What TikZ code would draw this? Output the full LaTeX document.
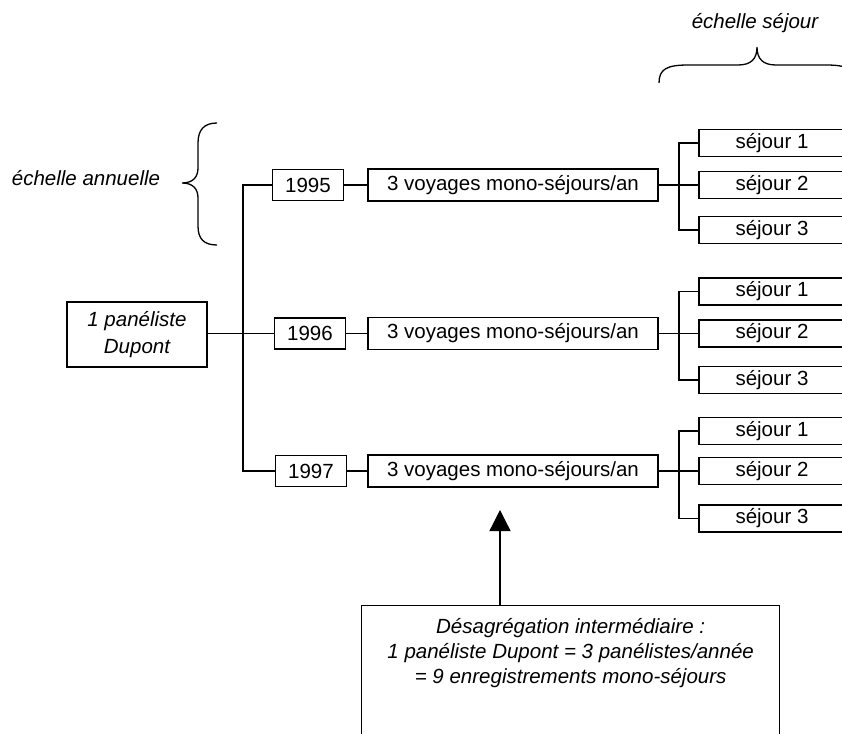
\documentclass[tikz,border=0pt]{standalone}
\usepackage{fontspec}
\setmainfont{Liberation Sans}
\usetikzlibrary{arrows.meta}
\begin{document}
\begin{tikzpicture}[x=1pt,y=-1pt,line width=1.3pt,
  every node/.style={font=\fontsize{20.5}{26}\selectfont},
  box/.style={draw,rectangle,inner sep=0pt,align=center},
  yearbox/.style={box,minimum width=71pt,minimum height=31pt},
  voybox/.style={box,minimum width=290pt,minimum height=32pt},
  sejbox/.style={box,minimum width=146pt,minimum height=27pt},
  lab/.style={font=\fontsize{20.5}{25}\selectfont\itshape,align=center}]
\useasboundingbox (0,0) rectangle (842,733);
\clip (0,0) rectangle (842,733);
\fill[white] (0,0) rectangle (842,733);

% root
\node[box,minimum width=140pt,minimum height=65pt,font=\fontsize{20.5}{27}\selectfont\itshape] (pan) at (137,334.5) {1 panéliste\\Dupont};

% years
\node[yearbox] (y95) at (308,185) {1995};
\node[yearbox] (y96) at (310,333.5) {1996};
\node[yearbox] (y97) at (311,471) {1997};

% voyages
\node[voybox] (v95) at (513,185) {3 voyages mono-séjours/an};
\node[voybox] (v96) at (513,333.5) {3 voyages mono-séjours/an};
\node[voybox] (v97) at (513,471) {3 voyages mono-séjours/an};

% sejours group 1
\node[sejbox] (s11) at (772,143) {séjour 1};
\node[sejbox] (s12) at (772,185) {séjour 2};
\node[sejbox] (s13) at (772,230) {séjour 3};
% group 2
\node[sejbox] (s21) at (772,291.5) {séjour 1};
\node[sejbox] (s22) at (772,333.5) {séjour 2};
\node[sejbox] (s23) at (772,380) {séjour 3};
% group 3
\node[sejbox] (s31) at (772,431) {séjour 1};
\node[sejbox] (s32) at (772,471) {séjour 2};
\node[sejbox] (s33) at (772,518.5) {séjour 3};

% trunk
\coordinate (trunk) at (243,333.5);
\draw (pan.east |- y96.west) -- (y96.west);
\draw (y95.west) -| (trunk) |- (y97.west);

% year to voyage
\draw (y95.east) -- (v95.west);
\draw (y96.east) -- (v96.west);
\draw (y97.east) -- (v97.west);

% voyage to sejours
\coordinate (b1) at (679,185);
\coordinate (b2) at (679,333.5);
\coordinate (b3) at (679,471);
\draw (v95.east) -- (s12.west);
\draw (s11.west) -| (b1) |- (s13.west);
\draw (v96.east) -- (s22.west);
\draw (s21.west) -| (b2) |- (s23.west);
\draw (v97.east) -- (s32.west);
\draw (s31.west) -| (b3) |- (s33.west);

% braces
\draw (659,83) .. controls (659,69) and (667,65) .. (688,65) -- (738,65)
  .. controls (751,65) and (757,59) .. (757,47)
  .. controls (757,59) and (763,65) .. (776,65) -- (826,65)
  .. controls (847,65) and (855,69) .. (855,83);
\node[lab] (lsej) at (755,23) {échelle séjour};

\draw (217,123) .. controls (204,123) and (198,130) .. (198,143) -- (198,168)
  .. controls (198,177) and (193,183) .. (182,183)
  .. controls (193,183) and (198,189) .. (198,198) -- (198,226)
  .. controls (198,239) and (204,245) .. (217,245);
\node[lab] (lann) at (86,178) {échelle annuelle};

% bottom box
\node[draw,rectangle,anchor=north west,minimum width=418pt,minimum height=160pt,inner sep=0pt] (dis) at (361,605) {};
\node[lab,anchor=north] (distext) at ([yshift=-9pt]dis.north) {Désagrégation intermédiaire :\\1 panéliste Dupont = 3 panélistes/année\\= 9 enregistrements mono-séjours};

\coordinate (atip) at (500,510);
\draw[-{Triangle[width=21pt,length=21pt]}] (atip |- dis.north) -- (atip);
\end{tikzpicture}
\end{document}
